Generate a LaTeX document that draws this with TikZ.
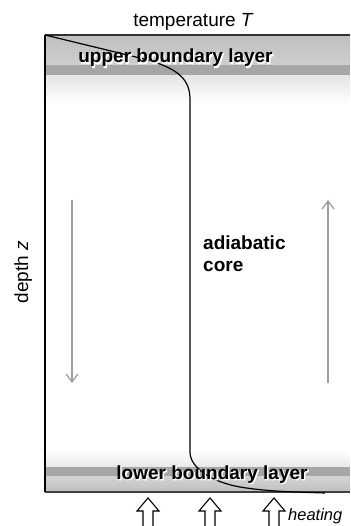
\documentclass[tikz,border=0pt]{standalone}
\usepackage{fontspec}
\setmainfont{Liberation Sans}
\usetikzlibrary{arrows.meta}
\newcommand{\halotext}[1]{\makebox[0pt][l]{\hspace{1pt}\raisebox{-1pt}{\color{white}\addfontfeature{FakeBold=3}#1}}#1}
\begin{document}
\begin{tikzpicture}[x=1pt,y=-1pt,
  lbl/.style={font=\fontsize{19}{22}\selectfont, inner sep=0pt},
  bold lbl/.style={font=\fontsize{19}{22}\selectfont\bfseries, inner sep=0pt},
  flow/.style={draw=black!38, line width=1.3pt, -{Straight Barb[length=8pt,width=12pt,line width=1.3pt]}},
  heatarrow/.style={draw=black, fill=white, line width=1.1pt, line join=miter},
  profile/.style={draw=black, line width=1.2pt}
]
\useasboundingbox (0,0) rectangle (350,526);
% shaded layers
\fill[top color=black!25, bottom color=black!19] (45,35) rectangle (350,65);
\fill[black!35] (45,65) rectangle (350,76);
\fill[top color=black!10, bottom color=white] (45,76) rectangle (350,102);
\fill[top color=white, bottom color=black!9] (45,450) rectangle (350,467);
\fill[black!35] (45,467) rectangle (350,476);
\fill[top color=black!17, bottom color=black!25] (45,476) rectangle (350,492);
% box lines
\coordinate (tl) at (45,35);
\coordinate (tr) at (350,35);
\coordinate (bl) at (45,492);
\coordinate (br) at (350,492);
\draw[black!80, line width=1.4pt] (tl) -- (tr);
\draw[black!75, line width=2pt] (bl) -- (br);
\draw[black, line width=1.5pt] (tl) -- (bl);
% temperature profile
\draw[profile] (tl) -- (140,58) .. controls (180,68) and (190,80) .. (190,100)
  -- (190,452) .. controls (190,468) and (212,482) .. (240,487)
  .. controls (270,492) and (300,492) .. (325,493);
\node[bold lbl, anchor=base] (upper) at (175.5,63) {\halotext{upper boundary layer}};
\node[bold lbl, anchor=base] (lower) at (212,479) {\halotext{lower boundary layer}};
\node[bold lbl, anchor=base west, align=left] (core) at (203,249) {adiabatic};
\node[bold lbl, anchor=base west] (core2) at (203,271) {core};
\node[lbl, anchor=base] (temp) at (193.5,27) {temperature \textit{T}};
\node[lbl, anchor=base, rotate=90] (depth) at (28,272) {depth \textit{z}};
% flow arrows
\coordinate (dtop) at (72,200);
\coordinate (dbot) at (72,383);
\coordinate (ubot) at (328,383);
\coordinate (utop) at (328,200);
\draw[flow] (dtop) -- (dbot);
\draw[flow] (ubot) -- (utop);
% heating arrows
\foreach \x [count=\i] in {148,210,274}{
  \coordinate (h\i) at (\x,498);
  \draw[heatarrow] (h\i) -- ++(11,13) -- ++(-6,0) -- ++(0,16) -- ++(-10,0) -- ++(0,-16) -- ++(-6,0) -- cycle;
}
\node[font=\fontsize{16.5}{19}\selectfont\itshape, anchor=base west, inner sep=0pt] (heat) at (288,520) {heating};
\end{tikzpicture}
\end{document}
